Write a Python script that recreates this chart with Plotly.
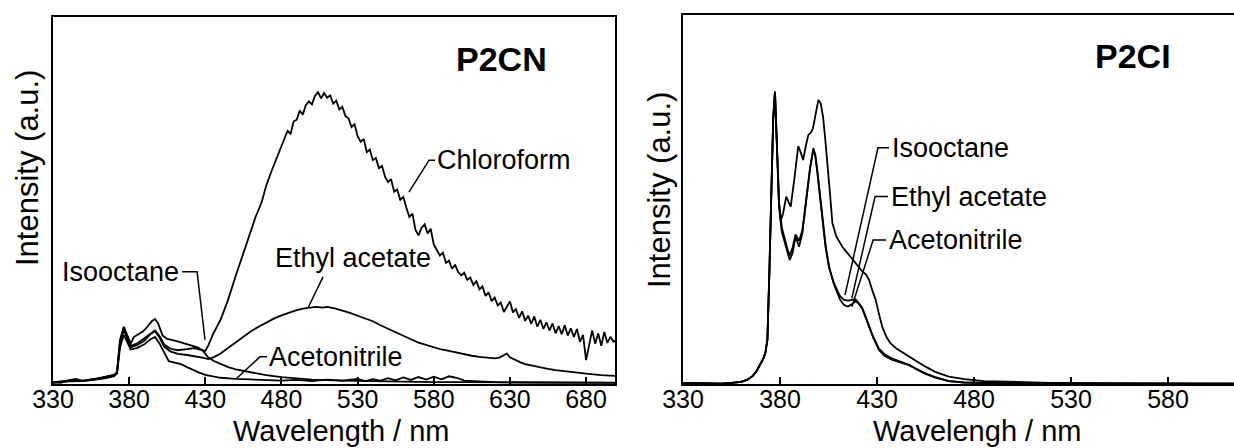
import plotly.graph_objects as go

# ---------------- data: P2CN (left panel) ----------------
cn_chloroform_nm = [330, 335, 340, 345, 350, 355, 360, 365, 370, 372, 374, 376.5, 379, 381, 385, 390, 394, 397, 400, 403,
                    407, 412, 418, 423, 427, 430, 432, 435, 440, 445, 450, 455, 460, 463, 467, 470, 473, 476, 479, 482,
                    484, 486, 488, 490, 492, 494, 496, 498, 500, 502, 504, 506, 508, 510, 512, 514, 516, 518, 520, 522,
                    524, 526, 528, 530, 532, 534, 536, 538, 540, 542, 544, 546, 548, 550, 552, 554, 556, 558, 560, 562,
                    564, 566, 568, 570, 572, 574, 576, 578, 580, 582, 584, 586, 588, 590, 592, 594, 596, 598, 600, 602,
                    604, 606, 608, 610, 612, 614, 616, 618, 620, 622, 624, 626, 628, 630, 632, 634, 636, 638, 640, 642,
                    644, 646, 648, 650, 652, 654, 656, 658, 660, 662, 664, 666, 668, 670, 672, 674, 676, 678, 680, 682,
                    684, 686, 688, 690, 692, 694, 696, 698, 700]
cn_chloroform_i = [0.6, 0.3, 1.0, 1.4, 0.8, 1.3, 1.6, 2.0, 2.4, 3.0, 11.5, 15.4, 12.5, 10.4, 11.0, 12.5, 13.8, 14.6, 13.0, 10.8,
                   9.6, 9.2, 9.5, 9.8, 9.3, 9.0, 10.5, 13.5, 17.5, 23.0, 29.5, 35.5, 42.0, 45.5, 49.5, 54.0, 57.5, 60.5, 64.0, 66.5,
                   69.0, 68.2, 71.5, 72.0, 74.5, 73.4, 76.0, 77.0, 76.2, 78.5, 79.5, 77.8, 79.3, 78.0, 78.6, 76.4, 77.2, 74.8, 75.5, 73.0,
                   72.4, 70.0, 70.8, 67.5, 66.0, 66.8, 63.2, 63.9, 61.0, 61.6, 58.8, 59.4, 56.5, 55.0, 55.8, 52.4, 53.0, 50.2, 51.0, 48.0,
                   45.5, 46.4, 42.0, 40.5, 42.6, 43.5, 41.0, 42.3, 38.0, 36.5, 35.0, 35.8, 33.0, 33.6, 31.4, 32.5, 30.5, 29.6, 30.3, 28.4,
                   29.0, 27.0, 28.0, 25.8, 26.6, 24.0, 25.0, 22.6, 23.6, 21.4, 22.2, 19.6, 21.0, 22.5, 19.5, 20.4, 18.0, 19.8, 17.2, 18.6,
                   16.4, 18.4, 15.6, 17.5, 15.0, 16.8, 14.6, 16.5, 13.8, 15.8, 13.6, 16.0, 13.2, 15.2, 12.8, 15.0, 11.5, 13.4, 6.5, 10.8,
                   14.6, 11.0, 13.8, 10.4, 14.2, 11.2, 12.9, 11.5, 12.0]

cn_isooctane_nm = [330, 340, 350, 360, 365, 370, 372, 374, 376.5, 379, 381, 383, 386, 389, 392, 395, 397, 399, 402, 405,
                   410, 415, 420, 425, 428, 432, 436, 440, 445, 450, 460, 470, 480, 490, 500, 520, 540, 560, 580, 600,
                   650, 700]
cn_isooctane_i = [0.5, 0.9, 1.0, 1.5, 2.0, 2.5, 3.2, 12.0, 15.6, 12.8, 11.0, 12.8, 13.5, 14.3, 15.6, 17.2, 17.7, 16.5, 13.2, 12.3,
                  11.8, 11.2, 10.8, 10.0, 9.2, 7.2, 6.2, 5.4, 4.6, 4.0, 3.1, 2.4, 1.9, 1.5, 1.2, 0.9, 0.7, 0.6, 0.5, 0.5,
                  0.4, 0.4]

cn_ethyl_nm = [330, 340, 350, 360, 365, 370, 372, 374, 376.5, 379, 381, 385, 390, 394, 397, 400, 403, 407, 412, 418,
               424, 428, 432, 436, 440, 445, 450, 455, 460, 465, 470, 475, 480, 485, 490, 495, 500, 503, 507, 510,
               515, 520, 525, 530, 535, 540, 545, 550, 555, 560, 565, 570, 575, 580, 585, 590, 595, 600, 605, 610,
               615, 620, 623, 626, 628, 630, 633, 637, 640, 645, 650, 655, 660, 670, 680, 690, 700]
cn_ethyl_i = [0.4, 0.8, 0.9, 1.3, 1.8, 2.3, 3.0, 11.0, 14.8, 12.0, 10.0, 10.6, 11.8, 13.6, 14.4, 12.6, 10.2, 8.9, 8.2, 7.9,
              7.6, 7.2, 6.8, 7.4, 8.3, 9.8, 11.3, 12.9, 14.4, 15.6, 16.8, 17.8, 18.7, 19.5, 20.1, 20.6, 20.8, 21.0, 20.8, 21.0,
              20.6, 20.1, 19.4, 18.6, 17.9, 17.1, 16.0, 15.0, 14.0, 13.1, 12.2, 11.3, 10.6, 9.9, 9.4, 9.0, 8.5, 8.1, 7.7, 7.4,
              7.2, 7.0, 7.2, 8.0, 8.3, 7.3, 6.6, 5.9, 5.4, 4.9, 4.5, 4.1, 3.8, 3.2, 2.8, 2.4, 2.2]

cn_acn_nm = [330, 340, 350, 360, 365, 370, 372, 374, 376.5, 379, 381, 385, 390, 394, 397, 400, 403, 406, 410, 414,
             418, 422, 426, 430, 435, 440, 450, 460, 470, 480, 490, 500, 510, 520, 530, 535, 540, 545, 550, 555,
             560, 565, 570, 575, 580, 585, 590, 595, 600, 610, 620, 640, 660, 700]
cn_acn_i = [0.3, 0.7, 0.8, 1.2, 1.6, 2.1, 2.8, 10.0, 13.4, 11.2, 9.4, 9.8, 10.8, 12.2, 12.8, 11.0, 8.4, 6.2, 5.8, 5.4,
            4.6, 3.8, 3.1, 2.5, 2.0, 1.7, 1.4, 1.2, 1.0, 0.9, 1.1, 0.8, 1.2, 0.9, 1.4, 0.8, 1.3, 0.9, 1.6, 1.0,
            1.8, 1.1, 1.9, 1.2, 2.0, 1.3, 2.1, 1.7, 0.9, 0.6, 0.5, 0.4, 0.3, 0.3]

# ---------------- data: P2CI (right panel) ----------------
ci_onset_nm = [330, 340, 350, 355, 360, 363, 366, 368, 370, 371.5, 372.5, 373.5, 374.5, 375.5, 376.5, 377.4]
ci_onset_i = [0.3, 0.2, 0.1, 0.3, 0.6, 1.1, 2.2, 3.6, 5.6, 7.0, 8.5, 12.0, 30.0, 55.0, 72.0, 79.2]

ci_upper_nm = [378.5, 379.5, 380.4, 381.5, 383.2, 384.3, 385.5, 387.5, 389.4, 390.5, 391.9, 393.3, 394.6, 396, 397, 398.5,
               399.8, 401, 402.2, 403.3, 404.4, 405.7, 407, 409, 412.1, 415, 419, 422, 424.5, 425.9, 427.5, 429.3,
               431, 432.7, 435, 437, 440, 444.8, 448, 450, 455, 460, 467, 475, 485, 500, 520, 550, 614]
ci_upper_i = [60.0, 49.0, 44.4, 46.0, 50.8, 49.5, 48.0, 56.0, 64.5, 63.0, 60.7, 64.5, 67.5, 68.2, 69.3, 73.5,
              77.0, 76.0, 72.4, 66.5, 60.7, 52.0, 43.6, 40.0, 37.2, 35.3, 32.7, 30.8, 29.5, 28.2, 25.5, 22.8,
              19.0, 15.5, 12.6, 11.0, 9.6, 7.9, 7.0, 6.3, 4.7, 3.3, 2.0, 1.3, 0.8, 0.5, 0.3, 0.2, 0.1]

ci_lower_a_nm = [378.5, 379.5, 380.9, 382.5, 384, 385, 386.5, 388, 389, 389.8, 391.5, 393, 394.1, 395.5, 397.2, 398.2,
                 399.2, 400.5, 401.8, 403.5, 405.3, 407.5, 409.6, 411, 413, 415, 417, 419, 420.5, 422.4, 424, 425.9,
                 428, 431, 434, 437.9, 442, 446.5, 450, 455, 460, 467, 475, 490, 520, 614]
ci_lower_a_i = [60.0, 48.0, 41.3, 38.0, 35.5, 33.6, 35.5, 39.9, 38.5, 37.2, 40.8, 47.0, 51.7, 58.5, 63.9, 62.0,
                58.0, 51.5, 44.4, 37.5, 31.8, 27.5, 24.6, 22.8, 21.4, 21.0, 21.6, 22.4, 21.8, 20.4, 18.2, 15.5,
                12.6, 9.2, 7.6, 6.5, 5.8, 5.1, 4.2, 2.9, 1.9, 0.8, 0.4, 0.2, 0.1, 0.1]

ci_lower_b_nm = [378.5, 379.5, 380.9, 382.5, 384, 385, 386.5, 388, 389, 389.8, 391.5, 393, 394.1, 395.5, 397.2, 398.2,
                 399.2, 400.5, 401.8, 403.5, 405.3, 407.5, 409.6, 411, 413, 415, 417, 419, 420.5, 422.4, 424, 425.9,
                 428, 431, 434, 437.9, 442, 446.5, 450, 455, 460, 467, 475, 490, 520, 614]
ci_lower_b_i = [60.5, 49.0, 42.5, 39.0, 36.2, 34.8, 37.0, 40.5, 39.6, 38.8, 41.5, 47.5, 52.0, 58.5, 63.6, 61.8,
                57.5, 51.0, 44.0, 37.0, 31.5, 27.8, 25.2, 23.8, 22.8, 22.6, 22.8, 22.9, 22.0, 20.6, 18.5, 15.8,
                12.8, 9.6, 8.0, 6.9, 6.0, 5.2, 4.1, 2.7, 1.7, 0.8, 0.4, 0.2, 0.1, 0.1]

# ---------------- labels & leader lines (data units) ----------------
cn_labels = ["Chloroform", "Ethyl acetate", "Isooctane", "Acetonitrile"]
cn_label_x = [580.8, 474.5, 414.1, 470.5]
cn_label_y = [61.0, 34.3, 30.6, 7.4]
cn_label_anchor = ["left", "left", "right", "left"]
cn_leader_x = [[576.9, 580.8, 576.9, 563.7], [507.3, 497.4], [414.8, 424.6, 429.8], [470.5, 465.9, 450.6]]
cn_leader_y = [[61.0, 61.0, 61.0, 52.3], [29.2, 20.7], [30.6, 30.6, 12.0], [7.4, 7.4, 1.55]]

ci_labels = ["Isooctane", "Ethyl acetate", "Acetonitrile"]
ci_label_x = [436.7, 436.2, 435.2]
ci_label_y = [64.0, 50.8, 39.0]
ci_leader_x = [[436.2, 430.5, 413.5], [435.7, 429.0, 417.0], [434.7, 428.0, 417.0]]
ci_leader_y = [[64.0, 64.0, 24.1], [50.8, 50.8, 23.2], [39.0, 39.0, 20.9]]

tick_vals_cn = [330, 380, 430, 480, 530, 580, 630, 680]
tick_vals_ci = [330, 380, 430, 480, 530, 580]

# ---------------- figure ----------------
W, H = 1234, 448
FONT = "Liberation Sans, Arial, Helvetica, sans-serif"
LW = 1.8


def px(x):
    return x / W


def py(y):
    return 1 - y / H


fig = go.Figure()

line = dict(color="black", width=LW)
for xs, ys in [(cn_chloroform_nm, cn_chloroform_i), (cn_isooctane_nm, cn_isooctane_i),
               (cn_ethyl_nm, cn_ethyl_i), (cn_acn_nm, cn_acn_i)]:
    fig.add_trace(go.Scatter(x=xs, y=ys, mode="lines", line=line, xaxis="x", yaxis="y",
                             showlegend=False, hoverinfo="skip"))
for lx, ly in zip(cn_leader_x, cn_leader_y):
    fig.add_trace(go.Scatter(x=lx, y=ly, mode="lines", line=dict(color="black", width=1.5),
                             xaxis="x", yaxis="y", showlegend=False, hoverinfo="skip"))

for xs, ys in [(ci_upper_nm, ci_upper_i), (ci_lower_a_nm, ci_lower_a_i), (ci_lower_b_nm, ci_lower_b_i)]:
    fig.add_trace(go.Scatter(x=ci_onset_nm + xs, y=ci_onset_i + ys, mode="lines", line=line,
                             xaxis="x2", yaxis="y2", showlegend=False, hoverinfo="skip"))
for lx, ly in zip(ci_leader_x, ci_leader_y):
    fig.add_trace(go.Scatter(x=lx, y=ly, mode="lines", line=dict(color="black", width=1.5),
                             xaxis="x2", yaxis="y2", showlegend=False, hoverinfo="skip"))

annotations = []
for t, x, y, a in zip(cn_labels, cn_label_x, cn_label_y, cn_label_anchor):
    annotations.append(dict(text=t, x=x, y=y, xref="x", yref="y", xanchor=a, yanchor="middle",
                            showarrow=False, font=dict(family=FONT, size=27, color="black")))
for t, x, y in zip(ci_labels, ci_label_x, ci_label_y):
    annotations.append(dict(text=t, x=x, y=y, xref="x2", yref="y2", xanchor="left", yanchor="middle",
                            showarrow=False, font=dict(family=FONT, size=27, color="black")))

annotations += [
    dict(text="<b>P2CN</b>", x=px(501), y=py(59), xref="paper", yref="paper", showarrow=False,
         xanchor="center", yanchor="middle", font=dict(family=FONT, size=34, color="black")),
    dict(text="<b>P2CI</b>", x=px(1133), y=py(56), xref="paper", yref="paper", showarrow=False,
         xanchor="center", yanchor="middle", font=dict(family=FONT, size=34, color="black")),
    dict(text="Wavelength / nm", x=px(342), y=0, xref="paper", yref="paper", showarrow=False,
         xanchor="center", yanchor="bottom", borderpad=0, font=dict(family=FONT, size=29, color="black")),
    dict(text="Wavelengh / nm", x=px(977), y=0, xref="paper", yref="paper", showarrow=False,
         xanchor="center", yanchor="bottom", borderpad=0, font=dict(family=FONT, size=29, color="black")),
    dict(text="Intensity (a.u.)", x=px(27), y=py(168), xref="paper", yref="paper", showarrow=False,
         textangle=-90, xanchor="center", yanchor="middle", font=dict(family=FONT, size=31, color="black")),
    dict(text="Intensity (a.u.)", x=px(660), y=py(190), xref="paper", yref="paper", showarrow=False,
         textangle=-90, xanchor="center", yanchor="middle", font=dict(family=FONT, size=31, color="black")),
]

xcommon = dict(showline=True, linecolor="black", linewidth=1.8, mirror=True, ticks="inside", ticklen=7,
               tickwidth=1.5, tickcolor="black", showgrid=False, zeroline=False, automargin=False,
               tickfont=dict(family=FONT, size=25, color="black"), ticklabelstandoff=-8)
ycommon = dict(showline=True, linecolor="black", linewidth=1.8, showticklabels=False, ticks="",
               showgrid=False, zeroline=False, range=[0, 100], automargin=False)

fig.update_layout(
    width=W, height=H,
    margin=dict(l=0, r=0, t=0, b=0, pad=0, autoexpand=False),
    paper_bgcolor="white", plot_bgcolor="white",
    xaxis=dict(**xcommon, domain=[px(53), px(615)], range=[330, 699], tickvals=tick_vals_cn,
               ticktext=[str(v) for v in tick_vals_cn], anchor="y"),
    yaxis=dict(**ycommon, domain=[py(384), py(17)], mirror=True, anchor="x"),
    xaxis2=dict(**xcommon, domain=[px(683), 1.0], range=[330, 614], tickvals=tick_vals_ci,
                ticktext=[str(v) for v in tick_vals_ci], anchor="y2"),
    yaxis2=dict(**ycommon, domain=[py(384), py(15)], mirror=False, anchor="x2"),
    annotations=annotations,
    showlegend=False,
)

fig.write_html(
    "out.html",
    config={"displayModeBar": False},
    post_script="document.documentElement.style.margin='0';document.documentElement.style.overflow='hidden';"
                "document.body.style.margin='0';document.body.style.padding='0';document.body.style.overflow='hidden';",
)
